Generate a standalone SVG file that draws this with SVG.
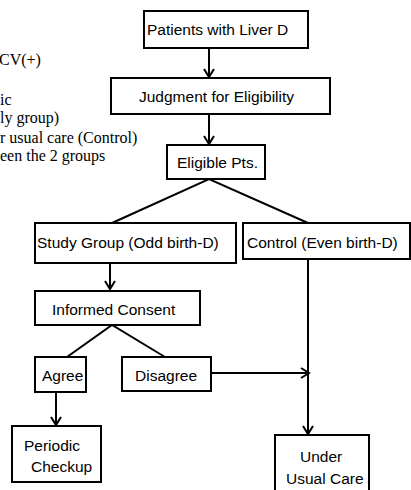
<svg xmlns="http://www.w3.org/2000/svg" width="411" height="490" viewBox="0 0 411 490">
<defs>
<marker id="arr" markerWidth="12" markerHeight="12" refX="10" refY="6" orient="auto" markerUnits="userSpaceOnUse">
<path d="M2,1 L10,6 L2,11" fill="none" stroke="#000" stroke-width="2"/>
</marker>
<style>
.box{fill:#fff;stroke:#000;stroke-width:2}
.t{font-family:"Liberation Sans",Arial,sans-serif;font-size:15.5px;fill:#000}
.s{font-family:"Liberation Serif","Times New Roman",serif;font-size:16px;fill:#000}
.ln{fill:none;stroke:#000;stroke-width:2}
</style>
</defs>
<rect width="411" height="490" fill="#fff"/>
<g id="notes">
<text class="s" x="-1" y="65">CV(+)</text>
<text class="s" x="0" y="105">ic</text>
<text class="s" x="0" y="123">ly group)</text>
<text class="s" x="0" y="143">r usual care (Control)</text>
<text class="s" x="0" y="161">een the 2 groups</text>
</g>
<g id="connectors">
<line class="ln" x1="209" y1="48" x2="209" y2="77" marker-end="url(#arr)"/>
<line class="ln" x1="209" y1="114" x2="209" y2="144" marker-end="url(#arr)"/>
<polyline class="ln" points="112,223 209,179 308,223"/>
<line class="ln" x1="110" y1="263" x2="110" y2="289" marker-end="url(#arr)"/>
<polyline class="ln" points="67,357 112,325 165,357"/>
<line class="ln" x1="56" y1="392" x2="56" y2="425" marker-end="url(#arr)"/>
<line class="ln" x1="211" y1="373" x2="309" y2="373" marker-end="url(#arr)"/>
<line class="ln" x1="308" y1="259" x2="308" y2="434" marker-end="url(#arr)"/>
</g>
<g id="patients">
<rect class="box" x="144" y="11" width="164" height="37"/>
<text class="t" x="147" y="35">Patients with Liver D</text>
</g>
<g id="judgment">
<rect class="box" x="111" y="78" width="219" height="36"/>
<text class="t" x="139" y="102">Judgment for Eligibility</text>
</g>
<g id="eligible">
<rect class="box" x="167" y="145" width="98" height="34"/>
<text class="t" x="177" y="168">Eligible Pts.</text>
</g>
<g id="study">
<rect class="box" x="35" y="223" width="201" height="40"/>
<text class="t" x="37" y="248">Study Group (Odd birth-D)</text>
</g>
<g id="control">
<rect class="box" x="243" y="223" width="167" height="36"/>
<text class="t" x="247" y="248">Control (Even birth-D)</text>
</g>
<g id="consent">
<rect class="box" x="35" y="291" width="165" height="34"/>
<text class="t" x="52" y="315">Informed Consent</text>
</g>
<g id="agree">
<rect class="box" x="35" y="357" width="51" height="35"/>
<text class="t" x="42" y="381">Agree</text>
</g>
<g id="disagree">
<rect class="box" x="122" y="357" width="89" height="34"/>
<text class="t" x="135" y="381">Disagree</text>
</g>
<g id="periodic">
<rect class="box" x="12" y="426" width="89" height="56"/>
<text class="t" x="24" y="451">Periodic</text>
<text class="t" x="31" y="472">Checkup</text>
</g>
<g id="usual">
<rect class="box" x="275" y="435" width="94" height="62"/>
<text class="t" x="300" y="462">Under</text>
<text class="t" x="286" y="484">Usual Care</text>
</g>
</svg>
